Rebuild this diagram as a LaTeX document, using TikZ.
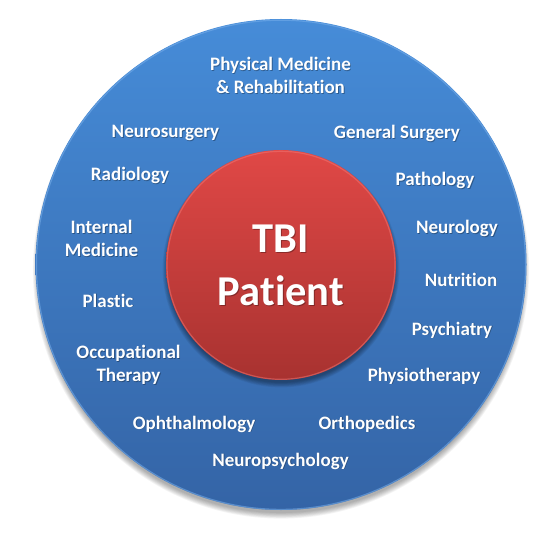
\documentclass[tikz,border=0pt]{standalone}
\usepackage{fontspec}
\setmainfont{Carlito}[Ligatures={NoCommon}]
\definecolor{bluetop}{RGB}{70,140,216}
\definecolor{bluebot}{RGB}{52,100,166}
\definecolor{bluerim}{RGB}{120,175,235}
\definecolor{redtop}{RGB}{224,72,70}
\definecolor{redbot}{RGB}{168,50,48}
\definecolor{redrim}{RGB}{240,120,118}
\newcommand\mylab[4]{%
  \node[lbl,text=black,text opacity=0.3,anchor=#2,xshift=0.8pt,yshift=-0.8pt] at (#3) {#4};%
  \node[lbl,anchor=#2] (#1) at (#3) {#4};}
\begin{document}
\begin{tikzpicture}[x=1pt,y=-1pt,
  lbl/.style={text=white,font=\fontsize{19}{23}\selectfont\bfseries,align=center,inner sep=0pt},
  big/.style={text=white,font=\fontsize{42.5}{53}\selectfont\bfseries,align=center,inner sep=0pt},
  disc/.style={circle,inner sep=0pt,draw=none}]
\useasboundingbox[fill=white] (0,0) rectangle (557,540);
% outer soft shadow
\foreach \i in {0,...,7}
  \fill[black,opacity=0.045] (281,270.5) circle ({242.5+\i*0.8});
\node[disc,minimum size=491pt,top color=bluetop,bottom color=bluebot] (outer) at (281,264.5) {};
\draw[bluerim,opacity=0.55,line width=1.2pt] (281,264.8) circle (244.6);
% inner soft shadow
\foreach \i in {0,...,7}
  \fill[black,opacity=0.05] (281,269) circle ({113.5+\i*0.7});
\node[disc,minimum size=230pt,top color=redtop,bottom color=redbot] (patient) at (281,265) {};
\draw[redrim,opacity=0.5,line width=1.2pt] (281,265.3) circle (114);
% labels
\node[big,text=black,text opacity=0.3,xshift=1pt,yshift=-1pt] at (281,265) {TBI\\Patient};
\node[big] (tbi) at (281,265) {TBI\\Patient};
\mylab{phys}{center}{280.5,75.8}{Physical Medicine\\\& Rehabilitation}
\mylab{neurosurg}{base}{165.5,138}{Neurosurgery}
\mylab{gensurg}{base}{397,139}{General Surgery}
\mylab{radiol}{base}{130,181}{Radiology}
\mylab{pathol}{base}{435,186}{Pathology}
\mylab{internal}{center}{101.5,238.8}{Internal\\Medicine}
\mylab{neurol}{base}{457,234}{Neurology}
\mylab{nutr}{base}{461,286}{Nutrition}
\mylab{plastic}{base}{108,307}{Plastic}
\mylab{psych}{base}{452,335}{Psychiatry}
\mylab{occ}{center}{128.5,364.7}{Occupational\\Therapy}
\mylab{physio}{base}{424,381}{Physiotherapy}
\mylab{ophth}{base}{194,429}{Ophthalmology}
\mylab{ortho}{base}{367,429}{Orthopedics}
\mylab{neuropsych}{base}{280.5,466}{Neuropsychology}
\end{tikzpicture}
\end{document}
